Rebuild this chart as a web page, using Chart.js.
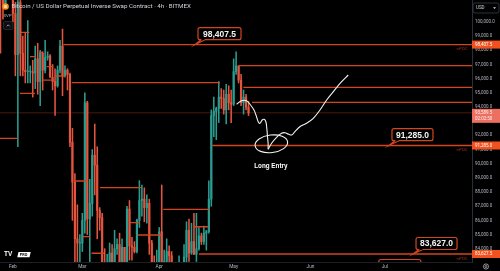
<!DOCTYPE html>
<html>
<head>
<meta charset="utf-8">
<script src="https://cdn.jsdelivr.net/npm/chart.js@4.4.1/dist/chart.umd.min.js"></script>
<style>
  html, body { margin: 0; padding: 0; background: #000; overflow: hidden; }
  canvas { display: block; }
</style>
</head>
<body>
<canvas id="chart" width="500" height="271"></canvas>
<script>
// --- data: one candle per day, day 0 = Feb 1 ---
const firstDay = -5;
const open = [
  102600,102000,101300,103700,104700,102400,100600,97700,101400,97800, // d-5
  96600,96500,96500,96500,96400,97400,95800,97800,96600,97500,         // d5
  97600,96100,95800,95500,96600,98300,96200,96600,96300,91500,         // d15
  88700,84700,84400,84400,86000,94300,86100,87200,90600,89900,         // d25
  86700,86200,80700,78500,82900,83700,81100,84000,84300,82600,         // d35
  84100,82700,86800,84200,84100,83800,86000,87400,87500,86900,         // d45
  87200,84400,82600,82400,82500,85200,82500,83100,83800,83500,         // d55
  78400,79200,76300,82600,79600,83400,85300,83700,84500,83600,         // d65
  84000,84900,84500,85100,85200,87500,93400,93700,93900,94700,         // d75
  94600,93800,94900,94300,94200,96500,96900,95900,94300,94700,         // d85
  94000                                                                // d95
];
const high = [
  103200,103700,104800,106400,106000,102700,101400,102500,101700,99000,
  99200,100100,96900,97300,98300,98500,98000,97900,98700,97900,
  97700,97000,96700,96900,98700,99500,96900,96700,96400,92500,
  89300,87100,85000,86500,95000,94400,88900,91000,92800,91200,
  86900,86500,84000,83600,84400,84300,85300,84700,85100,84700,
  84100,87000,87400,84800,84500,86100,88800,88500,88300,87800,
  87500,84600,83500,83900,85500,88500,83900,84700,84200,83800,
  81200,80800,83500,82700,84300,85900,86100,85800,86500,86500,
  85500,85100,85600,85300,88800,93800,94700,94000,95800,95300,
  95200,95600,95500,95200,97400,97900,96900,96300,95200,94900,
  94400
];
const low = [
  97800,100200,101300,103300,101600,100000,96200,91200,96200,96200,
  95700,95700,95700,94700,95300,94900,94100,95200,96400,97300,
  96100,95200,93400,95400,96400,94800,96100,95200,91200,86000,
  82300,82800,78200,83800,85100,85000,81500,86300,87800,84700,
  85300,80000,77500,76600,80600,79900,80800,83600,82000,82500,
  81100,82600,83200,83200,83700,83700,85500,86300,85900,85800,
  83600,81600,81600,81300,82400,82300,81200,81700,82400,77200,
  74500,76200,74600,78500,78900,82000,83100,83600,83600,83100,
  83900,84300,84300,83900,85100,87000,91900,91700,92900,93900,
  93500,92800,93800,92900,94100,96300,95700,94100,93500,93800,
  93400
];
const close = [
  102000,101300,103700,104700,102400,100600,97700,101400,97800,96600,
  96500,96500,96500,96400,97400,95800,97800,96600,97500,97600,
  96100,95800,95500,96600,98300,96200,96600,96300,91500,88700,
  84700,84400,84400,86000,94300,86100,87200,90600,89900,86700,
  86200,80700,78500,82900,83700,81100,84000,84300,82600,84100,
  82700,86800,84200,84100,83800,86000,87400,87500,86900,87200,
  84400,82600,82400,82500,85200,82500,83100,83800,83500,78400,
  79200,76300,82600,79600,83400,85300,83700,84500,83600,84000,
  84900,84500,85100,85200,87500,93400,93700,93900,94700,94600,
  93800,94900,94300,94200,96500,96900,95900,94300,94700,94000,
  93589.5
];

// volume profile POC segments (start day, end day or null = extended, price)
const segStart = [3.2, 6.9, 10.6, 12.2, 13.6, 16.9, 2.8, -5.2, 20.3, 23.7, 24.6, 35.1, 28.1, 31.7, 47.2, 50.5, 60.6, 73.0, 75.0, 80.4, 91.1, 92.9, 96.4];
const segEnd   = [6.6, 9.3, 12.0, 16.9, 16.3, 21.0, 8.9, 2.1, null, 83.5, 29.4, 51.6, 31.0, 36.7, 51.2, 60.0, 79.4, 78.8, null, null, null, null, null];
const segPrice = [99270, 97550, 97860, 95900, 96850, 96190, 94970, 91790, 98407.5, 95720, 88780, 88310, 84850, 83680, 85840, 84970, 86780, 85550, 83627.5, 91285, 96916, 95390, 94333];

// levels with nPOC tag + axis label
const npocLevels = [98407.5, 91285, 83627.5];
const npocTexts  = ['98,407.5', '91,285.0', '83,627.5'];

// hand drawn path (day, price)
const drawDownDays   = [90.2, 92.2, 94.2, 95.8, 97.2, 98.0, 98.9, 99.6, 100.5, 101.3, 102.0, 102.3, 102.5, 102.7, 102.9, 102.9];
const drawDownPrices = [94192, 94446, 94446, 94143, 93790, 93437, 92964, 92851, 93084, 93134, 92964, 92611, 92259, 91793, 91440, 91016];
const drawUpDays     = [102.9, 104.3, 106.3, 108.3, 109.7, 111.0, 112.4, 113.7, 115.7, 118.4, 121.1, 123.8, 126.5, 129.2, 131.9, 135.2];
const drawUpPrices   = [91016, 91440, 91863, 92146, 92188, 92096, 92026, 92259, 92611, 92851, 93204, 93790, 94495, 95081, 95674, 96260];

// axis ticks
const monthDays   = [0, 28, 59, 89, 120, 150];
const monthLabels = ['Feb', 'Mar', 'Apr', 'May', 'Jun', 'Jul'];
const priceTicks  = [84000, 85000, 86000, 87000, 88000, 89000, 90000, 91000, 92000, 94000, 95000, 96000, 97000, 98000, 99000, 100000];

const lastPrice = close[close.length - 1];
const countdown = '02:02:50';

// --- chart ---
const xMin = -5.2, xMax = 185.1;
const UP = '#2a9d90', DOWN = '#e4553f', POC = '#d2461f';
const isUp = i => close[i] >= open[i];

const days = close.map((_, i) => firstDay + i);
const wicks  = days.map((d, i) => ({ x: d, y: [low[i], high[i]] }));
const bodies = days.map((d, i) => ({ x: d, y: [open[i], close[i] === open[i] ? close[i] + 40 : close[i]] }));

const segData = [];
segStart.forEach((s, i) => {
  const e = segEnd[i] === null ? xMax : segEnd[i];
  segData.push({ x: s, y: segPrice[i] }, { x: e, y: segPrice[i] }, { x: e, y: null });
});

const fmt = v => v.toLocaleString('en-US', { minimumFractionDigits: 1, maximumFractionDigits: 1 });

const overlay = {
  id: 'overlay',
  afterDatasetsDraw(chart) {
    const { ctx, chartArea: a, scales: { x, y } } = chart;
    ctx.save();
    ctx.beginPath();
    ctx.rect(a.left, a.top, a.right - a.left, a.bottom - a.top);
    ctx.clip();

    // circle around the entry
    const ecx = x.getPixelForValue(104.2), ecy = y.getPixelForValue(91404);
    const erx = Math.abs(x.getPixelForValue(104.2 + 6.6) - ecx);
    const ery = Math.abs(y.getPixelForValue(91404 + 621) - ecy);
    ctx.strokeStyle = '#f2f2f2';
    ctx.lineWidth = 1.1;
    ctx.beginPath();
    ctx.ellipse(ecx, ecy, erx, ery, -0.12, 0, Math.PI * 2);
    ctx.stroke();

    ctx.fillStyle = '#ffffff';
    ctx.font = 'bold 6.3px "Liberation Sans", Arial, sans-serif';
    ctx.textAlign = 'center';
    ctx.textBaseline = 'middle';
    ctx.fillText('Long Entry', x.getPixelForValue(104), y.getPixelForValue(89840));

    // nPOC tags
    ctx.fillStyle = '#a02c16';
    ctx.font = '4.4px Roboto, sans-serif';
    npocLevels.forEach(p => ctx.fillText('nPOC', 462, y.getPixelForValue(p) + 4.8));

    // callouts
    const callouts = [
      { text: '98,407.5', day: 83.3, price: 99174, tipDay: 73.4, tipPrice: 98407.5, w: 43 },
      { text: '91,285.0', day: 161.1, price: 92047, tipDay: 151.6, tipPrice: 91285, w: 41 },
      { text: '83,627.0', day: 170.8, price: 84369, tipDay: 161.3, tipPrice: 83627.5, w: 41 },
      { text: '', day: 156, price: 82816, tipDay: 156, tipPrice: 82816, w: 42 }
    ];
    callouts.forEach(c => {
      const cx = x.getPixelForValue(c.day), cy = y.getPixelForValue(c.price);
      const tx = x.getPixelForValue(c.tipDay), ty = y.getPixelForValue(c.tipPrice);
      const h = 12, l = cx - c.w / 2, t = cy - h / 2;
      ctx.strokeStyle = POC;
      ctx.lineWidth = 1.2;
      ctx.fillStyle = '#000';
      ctx.beginPath();
      ctx.roundRect(l, t, c.w, h, 2);
      ctx.fill();
      ctx.stroke();
      if (c.text) {
        ctx.beginPath();
        ctx.moveTo(l + 3, t + h);
        ctx.lineTo(tx, ty);
        ctx.lineTo(l + 7, t + h);
        ctx.fill();
        ctx.stroke();
        ctx.fillStyle = '#000';
        ctx.fillRect(l + 3.6, t + h - 1.2, 2.8, 1.6);
        ctx.fillStyle = '#f4f4f4';
        ctx.font = 'bold 8.5px "Liberation Sans", Arial, sans-serif';
        ctx.fillText(c.text, cx, cy + 0.5);
      }
    });
    ctx.restore();
  },
  afterDraw(chart) {
    const { ctx, scales: { y } } = chart;
    ctx.save();
    ctx.textBaseline = 'middle';
    ctx.textAlign = 'left';
    ctx.font = '4.5px Roboto, sans-serif';

    // axis price boxes
    npocLevels.forEach((p, i) => {
      const py = y.getPixelForValue(p);
      ctx.fillStyle = '#f0511f';
      ctx.fillRect(472, py - 4, 28, 8);
      ctx.fillStyle = '#ffffff';
      ctx.fillText(npocTexts[i], 475, py + 0.3);
    });
    const lp = y.getPixelForValue(lastPrice);
    ctx.fillStyle = '#ec6f60';
    ctx.fillRect(472, lp - 4, 28, 14);
    ctx.fillStyle = '#fff2ee';
    ctx.fillText(fmt(lastPrice), 475, lp + 0.3);
    ctx.fillText(countdown, 475, lp + 6.3);

    // title
    ctx.fillStyle = '#f7931a';
    ctx.beginPath();
    ctx.arc(5.5, 6.5, 3.3, 0, Math.PI * 2);
    ctx.fill();
    ctx.fillStyle = '#fff';
    ctx.font = 'bold 4px Roboto, sans-serif';
    ctx.textAlign = 'center';
    ctx.fillText('B', 5.5, 6.7);
    ctx.textAlign = 'left';
    ctx.fillStyle = '#d1d4dc';
    ctx.font = '6.2px Roboto, sans-serif';
    ctx.fillText('Bitcoin / US Dollar Perpetual Inverse Swap Contract · 4h · BITMEX', 11.5, 6.7);
    ctx.fillStyle = '#b2b5be';
    ctx.font = '4.4px Roboto, sans-serif';
    ctx.fillText('SVP', 3.5, 15.5);
    ctx.fillStyle = '#0c0e12';
    ctx.strokeStyle = '#2a2e39';
    ctx.lineWidth = 0.8;
    ctx.beginPath();
    ctx.roundRect(3.5, 21.5, 9.5, 8, 1.5);
    ctx.fill();
    ctx.stroke();
    ctx.strokeStyle = '#b2b5be';
    ctx.beginPath();
    ctx.moveTo(6.8, 26.3); ctx.lineTo(8.25, 24.8); ctx.lineTo(9.7, 26.3);
    ctx.stroke();

    // currency selector
    ctx.fillStyle = '#000';
    ctx.strokeStyle = '#3a3e48';
    ctx.beginPath();
    ctx.roundRect(473, 3, 26, 10, 2);
    ctx.fill();
    ctx.stroke();
    ctx.fillStyle = '#d1d4dc';
    ctx.font = '4.5px Roboto, sans-serif';
    ctx.fillText('USD', 476, 8.2);
    ctx.beginPath();
    ctx.moveTo(493, 7.3); ctx.lineTo(496, 7.3); ctx.lineTo(494.5, 9);
    ctx.fill();

    // logo
    ctx.fillStyle = '#ffffff';
    ctx.font = 'bold 6.5px "Liberation Sans", Arial, sans-serif';
    ctx.fillText('TV', 4, 254.7);
    ctx.beginPath();
    ctx.moveTo(18.5, 252); ctx.lineTo(30.7, 252); ctx.lineTo(29.5, 257.2); ctx.lineTo(17.3, 257.2);
    ctx.closePath();
    ctx.fill();
    ctx.fillStyle = '#000';
    ctx.font = 'bold 3.8px Roboto, sans-serif';
    ctx.fillText('PRO', 19.8, 254.8);

    // settings gear
    ctx.strokeStyle = '#b2b5be';
    ctx.lineWidth = 0.8;
    ctx.beginPath();
    ctx.arc(486, 266.5, 2.6, 0, Math.PI * 2);
    ctx.stroke();
    ctx.beginPath();
    ctx.arc(486, 266.5, 1, 0, Math.PI * 2);
    ctx.stroke();
    ctx.restore();
  }
};

new Chart(document.getElementById('chart'), {
  data: {
    datasets: [
      {
        type: 'bar', data: wicks, order: 3, grouped: false, barThickness: 0.9,
        backgroundColor: c => isUp(c.dataIndex) ? UP : DOWN
      },
      {
        type: 'bar', data: bodies, order: 2, grouped: false, barThickness: 1.5,
        backgroundColor: c => isUp(c.dataIndex) ? UP : DOWN
      },
      {
        type: 'line', data: [{ x: xMin, y: lastPrice }, { x: xMax, y: lastPrice }], order: 4,
        borderColor: '#4a1810', borderWidth: 1, pointRadius: 0
      },
      {
        type: 'line', data: segData, order: 1, spanGaps: false,
        borderColor: POC, borderWidth: 1.3, pointRadius: 0
      },
      {
        type: 'line', data: drawDownDays.map((d, i) => ({ x: d, y: drawDownPrices[i] })), order: 0,
        borderColor: '#f2f2f2', borderWidth: 1.1, pointRadius: 0, tension: 0.35
      },
      {
        type: 'line', data: drawUpDays.map((d, i) => ({ x: d, y: drawUpPrices[i] })), order: 0,
        borderColor: '#f2f2f2', borderWidth: 1.1, pointRadius: 0, tension: 0.35
      }
    ]
  },
  options: {
    responsive: false,
    animation: false,
    layout: { padding: 0 },
    plugins: { legend: { display: false }, tooltip: { enabled: false } },
    scales: {
      x: {
        type: 'linear', min: xMin, max: xMax, offset: false,
        grid: { display: false, drawTicks: false },
        border: { display: true, color: '#1c1f26' },
        ticks: {
          autoSkip: false, maxRotation: 0, padding: 2, color: '#b2b5be',
          font: { family: 'Roboto, sans-serif', size: 4.8 },
          callback: v => monthLabels[monthDays.indexOf(v)] || ''
        },
        afterBuildTicks: s => { s.ticks = monthDays.map(v => ({ value: v })); },
        afterFit: s => { s.height = 9; s.paddingLeft = 0; s.paddingRight = 0; }
      },
      y: {
        type: 'linear', position: 'right', min: 83063, max: 101553,
        grid: { display: false, drawTicks: false },
        border: { display: true, color: '#2a2e39' },
        ticks: {
          padding: 3, color: '#b2b5be',
          font: { family: 'Roboto, sans-serif', size: 4.5 },
          callback: v => fmt(v)
        },
        afterBuildTicks: s => { s.ticks = priceTicks.map(v => ({ value: v })); },
        afterFit: s => { s.width = 28; s.paddingTop = 0; s.paddingBottom = 0; }
      }
    }
  },
  plugins: [overlay]
});
</script>
</body>
</html>
